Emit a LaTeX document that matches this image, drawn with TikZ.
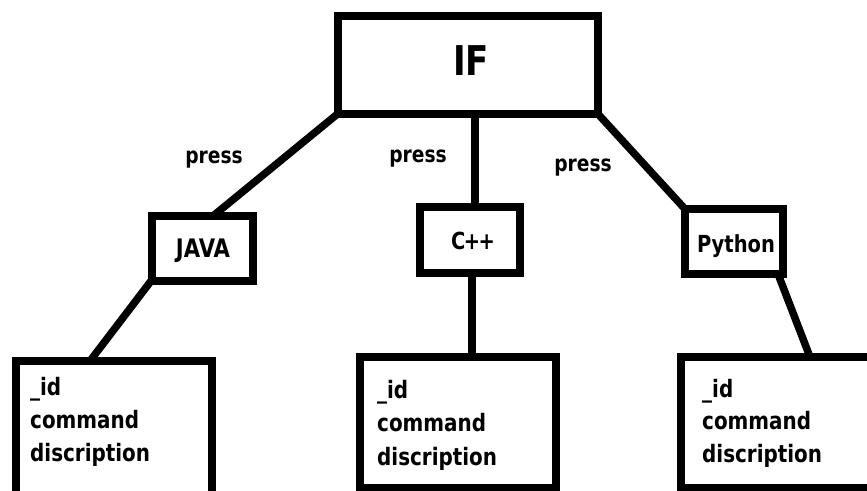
\documentclass[tikz,border=0pt]{standalone}
\usepackage{fontspec}
\setmainfont{DejaVu Sans}[FakeStretch=0.83]
\begin{document}
\begin{tikzpicture}[x=1pt,y=-1pt,
  box/.style={draw=black, line width=8pt, rectangle, inner sep=0pt, outer sep=0pt, fill=white},
  conn/.style={draw=black, line width=7.5pt},
  lbl/.style={inner sep=0pt, anchor=base, font=\fontsize{22.5}{26}\selectfont\bfseries},
  line/.style={inner sep=0pt, anchor=base west, font=\fontsize{24}{28}\selectfont\bfseries},
  bigtxt/.style={inner sep=0pt, anchor=base, font=\fontsize{41}{46}\selectfont\bfseries}]
\useasboundingbox (0,0) rectangle (867,490);
\clip (0,0) rectangle (867,490);
\fill[white] (0,0) rectangle (867,490);
\coordinate (ifc) at (467.75,65);
\coordinate (javac) at (202.5,248.5);
\coordinate (cppc) at (470,240);
\coordinate (pyc) at (734,241.5);
\coordinate (b1c) at (114,430.5);
\coordinate (b2c) at (458,422.5);
\coordinate (b3c) at (790.5,422.5);
% boxes
\node[box, minimum width=260.5pt, minimum height=98pt] (if) at (ifc) {};
\node[box, minimum width=101pt, minimum height=65pt] (java) at (javac) {};
\node[box, minimum width=100pt, minimum height=66pt] (cpp) at (cppc) {};
\node[box, minimum width=98pt, minimum height=65pt] (py) at (pyc) {};
\node[box, minimum width=196pt, minimum height=139pt] (b1) at (b1c) {};
\node[box, minimum width=196pt, minimum height=131pt] (b2) at (b2c) {};
\node[box, minimum width=219pt, minimum height=131pt] (b3) at (b3c) {};
% connectors
\draw[conn] (if.south west) -- ([xshift=10.5pt]java.north);
\draw[conn] ([xshift=7.25pt]if.south) -- ([xshift=5pt]cpp.north);
\draw[conn] (if.south east) -- (py.north west);
\draw[conn] ([xshift=-1pt]java.south west) -- ([xshift=-24pt]b1.north);
\draw[conn] ([xshift=2pt]cpp.south) -- ([xshift=14pt]b2.north);
\draw[conn] ([xshift=-5pt]py.south east) -- ([xshift=19.5pt]b3.north);
% texts
\node[bigtxt] (tif) at (471,75) {IF};
\node[lbl, font=\fontsize{25.5}{30}\selectfont\bfseries] (tjava) at (203,257) {JAVA};
\node[lbl, font=\fontsize{23.5}{28}\selectfont\bfseries] (tcpp) at (473,249) {C\kern-1.5pt+\kern-1.5pt+};
\node[lbl, font=\fontsize{23.5}{28}\selectfont\bfseries] (tpy) at (736,252) {Python};
\node[lbl] (p1) at (214,163) {press};
\node[lbl] (p2) at (418,162) {press};
\node[lbl] (p3) at (583,171) {press};
\node[line] (b1a) at (30,395) {\_id};
\node[line] (b1b) at (30,428) {command};
\node[line] (b1d) at (30,461) {discription};
\node[line] (b2a) at (377,398) {\_id};
\node[line] (b2b) at (377,431) {command};
\node[line] (b2d) at (377,465) {discription};
\node[line] (b3a) at (702,397) {\_id};
\node[line] (b3b) at (702,429) {command};
\node[line] (b3d) at (702,462) {discription};
\end{tikzpicture}
\end{document}
